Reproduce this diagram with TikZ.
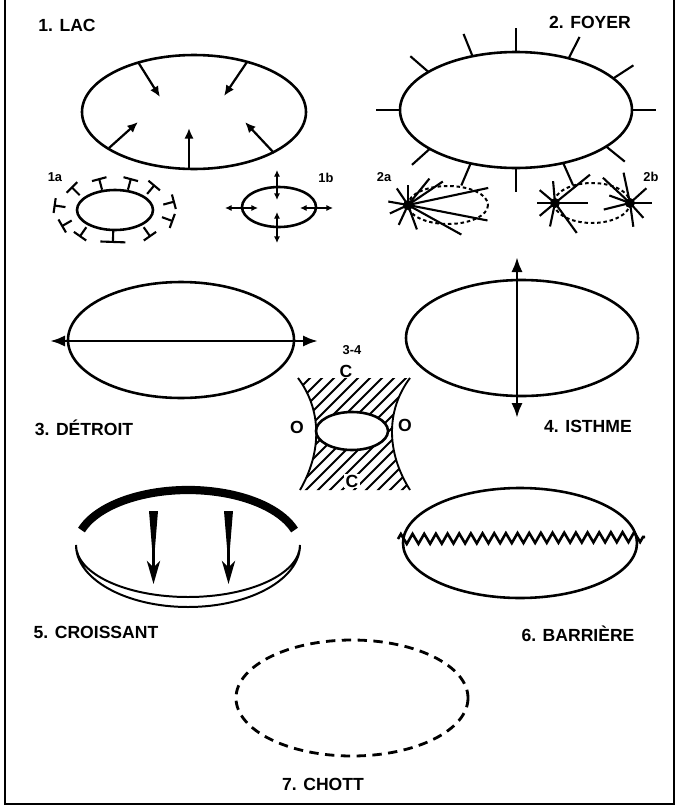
\documentclass[tikz,border=0pt]{standalone}
\usepackage{fontspec}
\setmainfont{Liberation Sans}
\usetikzlibrary{arrows.meta, calc, decorations.pathmorphing}
\tikzset{
    lake/.style={line width=2.2pt},
    lake_dotted/.style={line width=1.7pt, dash pattern=on 3pt off 2.4pt},
    spike/.style={line width=1.8pt},
    arrow/.style={-{Latex[length=3.2mm, width=2.8mm]}, line width=1.9pt},
    arrow_small/.style={{Latex[length=2mm, width=1.9mm]}-{Latex[length=2mm, width=1.9mm]}, line width=1.5pt},
    arrow_big/.style={{Latex[length=4.5mm, width=3.4mm]}-{Latex[length=4.5mm, width=3.4mm]}, line width=2.5pt}
}

\begin{document}
\begin{tikzpicture}[x=0.03cm, y=-0.03cm]
    \tikzstyle{title}=[font=\fontsize{15}{17}\selectfont\bfseries, inner sep=0pt]
    \tikzstyle{tag}=[font=\fontsize{11}{13}\selectfont\bfseries, inner sep=0pt]
    \tikzstyle{tee}=[-{Bar[width=4.5mm]}, line width=1.8pt]
    \tikzstyle{hatch}=[line width=1.6pt]

    \useasboundingbox (0,0) rectangle (679,809);

    % Frame
    \draw[line width=2.2pt] (5,0) -- (5,804) -- (674,804) -- (674,0);

    % Centres
    \coordinate (lac) at (194,112);
    \coordinate (foyer) at (516,110);
    \coordinate (lac_a) at (115,210);
    \coordinate (lac_b) at (279,207);
    \coordinate (detroit) at (181,340);
    \coordinate (isthme) at (522,338);
    \coordinate (passe) at (352,431);
    \coordinate (barriere) at (520,543);
    \coordinate (chott) at (352,698);

    % 1. Lac
    \node (t1) [title] at (67,25) {1. LAC};
    \draw[lake] (lac) ellipse [x radius=112, y radius=57];
    \foreach \xa/\ya/\xb/\yb in {138/62/160/97, 247/62/224/96, 109/148/138/122, 189/170/189/128, 274/153/245/122}
        \draw[arrow] (\xa,\ya) -- (\xb,\yb);

    % 1a and 1b
    \node (t1a) [tag] at (55,177) {1a};
    \draw[lake] (lac_a) ellipse [x radius=38, y radius=20];
    \begin{scope}[shift={(lac_a)}]
        \foreach \a in {15,50,75,105,135,172,210,235,305,340}
            \draw[tee] (-\a:50 and 21) -- (-\a:62 and 33);
        \draw[tee, -{Bar[width=7.5mm]}] (-268:50 and 21) -- (-268:62 and 33);
    \end{scope}

    \node (t1b) [tag] at (326,178) {1b};
    \draw[lake] (lac_b) ellipse [x radius=37, y radius=20];
    \draw[arrow_small] (277,170) -- (277,200);
    \draw[arrow_small] (277,212) -- (277,243);
    \draw[arrow_small] (225,208) -- (258,208);
    \draw[arrow_small] (300,208) -- (333,208);

    % 2. Foyer
    \node (t2) [title] at (590,22) {2. FOYER};
    \draw[lake] (foyer) ellipse [x radius=116, y radius=58];
    \begin{scope}[shift={(foyer)}]
        \foreach \a in {0,33,63,90,112,139,180,222,247,270,294,321}
            \draw[spike] (-\a:116 and 58) -- (-\a:140 and 82);
    \end{scope}

    % 2a and 2b
    \node (t2a) [tag] at (384,177) {2a};
    \draw[lake_dotted] (448,205) ellipse [x radius=40, y radius=19];
    \begin{scope}[shift={(408,205)}]
        \foreach \a/\r in {90/20,124/20,170/20,205/20,245/22,290/26,331/61,349/81,12/82,34/42,51/34}
            \draw[spike] (0,0) -- (-\a:\r);
        \fill (0,0) circle [radius=5];
    \end{scope}

    \node (t2b) [tag] at (651,177) {2b};
    \draw[lake_dotted] (592,203) ellipse [x radius=38, y radius=20];
    \begin{scope}[shift={(555,203)}]
        \foreach \a/\r in {95/22,140/20,180/18,220/20,258/24,306/37,0/33,39/45}
            \draw[spike] (0,0) -- (-\a:\r);
        \fill (0,0) circle [radius=5];
    \end{scope}
    \begin{scope}[shift={(630,203)}]
        \foreach \a/\r in {137/37,102/31,42/22,0/22,312/20,278/24,194/27,160/22}
            \draw[spike] (0,0) -- (-\a:\r);
        \fill (0,0) circle [radius=5];
    \end{scope}

    % 3. Detroit
    \draw[lake] (detroit) ellipse [x radius=113, y radius=58];
    \draw[arrow_big] (50,341) -- (318,341);
    \node (t3) [title] at (84,428) {3. DÉTROIT};

    % 3-4
    \node (t34) [tag] at (352,350) {3-4};
    \begin{scope}[even odd rule]
        \clip (298,378) .. controls (322,410) and (322,452) .. (300,490)
            -- (410,490) .. controls (386,452) and (386,410) .. (410,378) -- cycle
            (passe) ellipse [x radius=36, y radius=19];
        \foreach \k in {0,...,19}
            \draw[hatch] (176+12*\k,500) -- ++(150,-150);
    \end{scope}
    \draw[hatch] (298,378) .. controls (322,410) and (322,452) .. (300,490);
    \draw[hatch] (410,378) .. controls (386,410) and (386,452) .. (410,490);
    \draw[lake] (passe) ellipse [x radius=36, y radius=19];
    \node (c_top) [title, fill=white, inner sep=1pt] at (346,371) {C};
    \node (c_bot) [title, fill=white, inner sep=1pt] at (352,481) {C};
    \node (o_left) [title] at (297,427) {O};
    \node (o_right) [title] at (405,425) {O};

    % 4. Isthme
    \draw[lake] (isthme) ellipse [x radius=116, y radius=58];
    \draw[arrow_big] (517,257) -- (517,418);
    \node (t4) [title] at (588,426) {4. ISTHME};

    % 5. Croissant
    \draw[line width=7pt] ($(188,548)+(-162:112 and 58)$) arc [start angle=-162, end angle=-18, x radius=112, y radius=58];
    \draw[line width=1.7pt] (76,545) arc [start angle=180, end angle=0, x radius=112, y radius=62]
        arc [start angle=0, end angle=180, x radius=112, y radius=52] -- cycle;
    \foreach \x in {153.5,228.5} {
        \fill (\x-4.5,511) -- (\x+4.5,511) -- (\x,566) -- cycle;
        \draw[line width=1.8pt, -{Stealth[length=7mm, width=4mm, inset=2mm]}] (\x,550) -- (\x,584);
    }
    \node (t5) [title] at (96,632) {5. CROISSANT};

    % 6. Barriere
    \draw[lake] (barriere) ellipse [x radius=117, y radius=55];
    \draw[line width=2.2pt, decorate, decoration={zigzag, segment length=0.35cm, amplitude=0.15cm}] (398,539) -- (645,537);
    \node (t6) [title] at (578,634) {6. BARRIÈRE};

    % 7. Chott
    \draw[line width=2.4pt, dash pattern=on 8pt off 5.5pt] (chott) ellipse [x radius=116, y radius=58];
    \node (t7) [title] at (323,784) {7. CHOTT};

\end{tikzpicture}
\end{document}
